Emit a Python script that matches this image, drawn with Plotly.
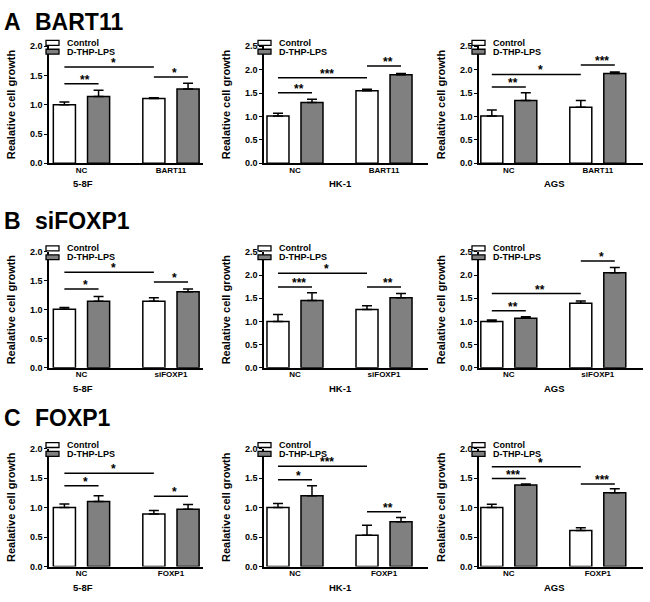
import plotly.graph_objects as go

W, H = 650, 602
FONT = "Liberation Sans, Arial, sans-serif"

# --- dados: média e DP (só a barra de erro de cima) ---
ROW_LETTERS = ["A", "B", "C"]
ROW_GENES = ["BART11", "siFOXP1", "FOXP1"]
CELL_LINES = ["5-8F", "HK-1", "AGS"]
GROUPS = ["Control", "D-THP-LPS"]
Y_MAX = [[2.0, 2.5, 2.5], [2.0, 2.5, 2.5], [2.0, 2.0, 2.0]]

# uma lista por linha; cada item = [NC, segunda categoria] de uma linhagem
bart11_ctrl = [[1.00, 1.11], [1.01, 1.55], [1.01, 1.20]]
bart11_ctrl_sd = [[0.05, 0.01], [0.06, 0.03], [0.13, 0.14]]
bart11_lps = [[1.14, 1.27], [1.30, 1.89], [1.34, 1.92]]
bart11_lps_sd = [[0.11, 0.10], [0.07, 0.03], [0.17, 0.03]]

sifoxp1_ctrl = [[1.01, 1.15], [1.00, 1.26], [1.00, 1.39]]
sifoxp1_ctrl_sd = [[0.03, 0.06], [0.15, 0.08], [0.03, 0.05]]
sifoxp1_lps = [[1.15, 1.31], [1.45, 1.51], [1.07, 2.05]]
sifoxp1_lps_sd = [[0.08, 0.05], [0.17, 0.09], [0.03, 0.11]]

foxp1_ctrl = [[1.00, 0.89], [1.00, 0.53], [1.00, 0.61]]
foxp1_ctrl_sd = [[0.06, 0.06], [0.07, 0.17], [0.055, 0.045]]
foxp1_lps = [[1.10, 0.97], [1.20, 0.76], [1.38, 1.25]]
foxp1_lps_sd = [[0.10, 0.08], [0.17, 0.07], [0.02, 0.07]]

# significância: (barra i, barra j, altura, texto); barras 0..3 = NC ctrl, NC lps, 2a ctrl, 2a lps
bart11_sig = [
    [(0, 1, 1.36, "**"), (0, 2, 1.645, "*"), (2, 3, 1.475, "*")],
    [(0, 1, 1.51, "**"), (0, 2, 1.83, "***"), (2, 3, 2.08, "**")],
    [(0, 1, 1.63, "**"), (0, 2, 1.90, "*"), (2, 3, 2.10, "***")],
]
sifoxp1_sig = [
    [(0, 1, 1.36, "*"), (0, 2, 1.65, "*"), (2, 3, 1.48, "*")],
    [(0, 1, 1.74, "***"), (0, 2, 2.04, "*"), (2, 3, 1.74, "**")],
    [(0, 1, 1.23, "**"), (0, 2, 1.60, "**"), (2, 3, 2.30, "*")],
]
foxp1_sig = [
    [(0, 1, 1.37, "*"), (0, 2, 1.58, "*"), (2, 3, 1.19, "*")],
    [(0, 1, 1.47, "*"), (0, 2, 1.70, "***"), (2, 3, 0.93, "**")],
    [(0, 1, 1.49, "***"), (0, 2, 1.69, "*"), (2, 3, 1.40, "***")],
]

CTRL = [bart11_ctrl, sifoxp1_ctrl, foxp1_ctrl]
CTRL_SD = [bart11_ctrl_sd, sifoxp1_ctrl_sd, foxp1_ctrl_sd]
LPS = [bart11_lps, sifoxp1_lps, foxp1_lps]
LPS_SD = [bart11_lps_sd, sifoxp1_lps_sd, foxp1_lps_sd]
SIG = [bart11_sig, sifoxp1_sig, foxp1_sig]

# --- geometria (em pixels da imagem) ---
AX_LEFT = [49, 264, 479]       # linha do eixo y
AX_RIGHT = [203, 428, 643]
X_RANGE = [[-0.363, 1.358], [-0.348, 1.494], [-0.335, 1.508]]
ROW_TOP = [42, 251, 451]
ROW_BOT = [161, 369, 571]
XTITLE_X = [83, 340, 554]
LEG_DX = [-3, -6, -7]

BARGAP = 0.236
BARGROUPGAP = 0.353
OFF = (1 - BARGAP) / 4   # deslocamento do centro da barra dentro do grupo
GRAY = "#808080"


def px(x):
    return x / W


def py(y):
    return 1 - y / H


fig = go.Figure()
shapes = []
annotations = []

for r in range(3):
    for c in range(3):
        k = r * 3 + c + 1
        sfx = "" if k == 1 else str(k)
        xa, ya = "x" + sfx, "y" + sfx
        cats = ["NC", ROW_GENES[r]]

        for vals, sds, fill, nome in [
            (CTRL[r][c], CTRL_SD[r][c], "white", GROUPS[0]),
            (LPS[r][c], LPS_SD[r][c], GRAY, GROUPS[1]),
        ]:
            fig.add_trace(go.Bar(
                x=cats, y=vals, name=nome, xaxis=xa, yaxis=ya,
                showlegend=False,
                marker=dict(color=fill, line=dict(color="black", width=1.5)),
                error_y=dict(type="data", array=sds, arrayminus=[0] * len(sds),
                             symmetric=False, color="black", thickness=1.5, width=5),
            ))

        fig.layout["xaxis" + sfx] = dict(
            domain=[px(AX_LEFT[c]), px(AX_RIGHT[c])], anchor=ya,
            type="category", range=X_RANGE[c],
            showline=True, linecolor="black", linewidth=1.5,
            ticks="", ticklabelstandoff=-2,
            showgrid=False, zeroline=False, fixedrange=True,
            tickfont=dict(family=FONT, size=8, color="black", weight="bold"),
        )
        fig.layout["yaxis" + sfx] = dict(
            domain=[py(ROW_BOT[r]), py(ROW_TOP[r])], anchor=xa,
            range=[0, Y_MAX[r][c]], dtick=0.5, tickformat=".1f",
            showline=True, linecolor="black", linewidth=1.5,
            ticks="outside", ticklen=3, tickwidth=1.3, tickcolor="black",
            showgrid=False, zeroline=False, fixedrange=True,
            tickfont=dict(family=FONT, size=9, color="black", weight="bold"),
        )

        # barras de significância
        for i, j, yv, txt in SIG[r][c]:
            x0 = i // 2 + (OFF if i % 2 else -OFF)
            x1 = j // 2 + (OFF if j % 2 else -OFF)
            shapes.append(dict(type="line", xref=xa, yref=ya, x0=x0, x1=x1,
                               y0=yv, y1=yv, line=dict(color="black", width=1.5)))
            annotations.append(dict(xref=xa, yref=ya, x=(x0 + x1) / 2, y=yv,
                                    text=txt, showarrow=False, yanchor="bottom",
                                    yshift=-5, xshift=4,
                                    font=dict(family=FONT, size=12, color="black",
                                              weight="bold")))

        # legenda desenhada à mão (retângulos achatados como no Prism)
        lx = AX_LEFT[c] + LEG_DX[c]
        for n, (fill, nome) in enumerate([("white", GROUPS[0]), (GRAY, GROUPS[1])]):
            cy = ROW_TOP[r] - 3.5 + n * 9
            shapes.append(dict(type="rect", xref="paper", yref="paper",
                               x0=px(lx), x1=px(lx + 13), y0=py(cy - 2.5), y1=py(cy + 2.5),
                               fillcolor=fill, line=dict(color="black", width=1.3)))
            annotations.append(dict(xref="paper", yref="paper", x=px(lx + 19), y=py(cy),
                                    xanchor="left", yanchor="middle", text=nome,
                                    showarrow=False,
                                    font=dict(family=FONT, size=9, color="black",
                                              weight="bold")))

        # títulos dos eixos
        annotations.append(dict(xref="paper", yref="paper", x=px(AX_LEFT[c] - 38.5),
                                y=py((ROW_TOP[r] + ROW_BOT[r]) / 2), textangle=-90,
                                text="Realative cell growth", showarrow=False,
                                xanchor="center", yanchor="middle",
                                font=dict(family=FONT, size=11, color="black",
                                          weight="bold")))
        annotations.append(dict(xref="paper", yref="paper", x=px(XTITLE_X[c]),
                                y=py(ROW_BOT[r] + 21), text=CELL_LINES[c],
                                showarrow=False, xanchor="center", yanchor="middle",
                                font=dict(family=FONT, size=9.5, color="black",
                                          weight="bold")))

    # título de cada linha: letra + gene
    ty = ROW_TOP[r] - 24.5 if r == 0 else ROW_TOP[r] - 31
    annotations.append(dict(xref="paper", yref="paper", x=px(2), y=py(ty),
                            xanchor="left", yanchor="middle", text=ROW_LETTERS[r],
                            showarrow=False,
                            font=dict(family=FONT, size=23, color="black", weight="bold")))
    annotations.append(dict(xref="paper", yref="paper", x=px(33), y=py(ty),
                            xanchor="left", yanchor="middle", text=ROW_GENES[r],
                            showarrow=False,
                            font=dict(family=FONT, size=23, color="black", weight="bold")))

fig.update_layout(
    width=W, height=H,
    margin=dict(l=0, r=0, t=0, b=0),
    paper_bgcolor="white", plot_bgcolor="white",
    barmode="group", bargap=BARGAP, bargroupgap=BARGROUPGAP,
    shapes=shapes, annotations=annotations,
    showlegend=False,
    font=dict(family=FONT, color="black"),
)

# a página padrão tem margem de 8px no body; zera para alinhar com a imagem
fig.write_html("out.html", config={"displayModeBar": False},
               post_script="document.body.style.margin='0';")
